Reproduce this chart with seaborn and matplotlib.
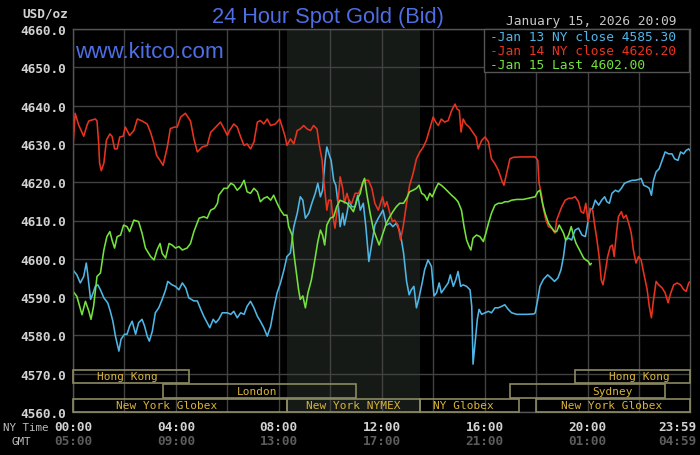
import pandas as pd
import seaborn as sns
import matplotlib
matplotlib.use("Agg")
import matplotlib.pyplot as plt
import matplotlib.transforms as mtransforms
from matplotlib.patches import Rectangle

# minutes after midnight (NY time) and bid price
jan13_min = [0, 9, 17, 25, 31, 34, 41, 47, 52, 58, 64, 72, 81, 87, 93, 99, 107, 112, 120, 126,
             132, 138, 146, 153, 161, 167, 173, 178, 185, 192, 200, 208, 216, 221, 231, 239, 247, 255, 263, 270,
             282, 290, 298, 305, 313, 319, 327, 333, 340, 348, 356,
             360, 368, 375, 383, 391, 399, 406, 414, 422, 430, 437, 445, 453, 461, 468, 476, 484, 492, 499, 507,
             515, 523, 530, 536, 542, 550, 557, 565, 571, 577, 582, 588, 592, 598, 602, 608, 613, 619, 623, 629,
             633, 639, 644, 650, 658, 664, 670, 677, 683, 690, 697, 704, 712,
             723, 731, 739, 746, 754, 761, 766, 771, 778, 784, 789, 795, 801, 807, 815, 820, 828, 836, 842, 848,
             854, 859, 867, 875, 880, 887, 893, 898, 904, 910, 918, 926, 930, 933, 937, 943, 947, 953, 961, 969,
             976, 984, 992, 1000, 1007, 1015, 1023, 1035, 1058, 1075,
             1078, 1084, 1089, 1097, 1107, 1115, 1123, 1131, 1138, 1144, 1149, 1156, 1163, 1171, 1179, 1187,
             1195, 1201, 1206, 1212, 1218, 1226, 1233, 1240, 1245, 1251, 1257, 1265, 1272, 1279, 1286, 1294,
             1304, 1311, 1319, 1325, 1331, 1339, 1344, 1349, 1354, 1360, 1367, 1374, 1381, 1389, 1397, 1403,
             1411, 1417, 1424, 1430, 1436, 1439]
jan13_usd = [4597.1, 4595.8, 4593.7, 4595.4, 4598.9, 4596.3, 4589.4, 4591.1, 4592.8, 4593.2,
             4591.9, 4589.8, 4588.5, 4586.3, 4583.7, 4579.8, 4575.9, 4579.0, 4580.3, 4580.3,
             4582.4, 4583.7, 4580.3, 4583.3, 4584.2, 4582.4, 4579.8, 4578.5, 4581.1, 4585.9,
             4587.2, 4589.4, 4591.9, 4594.1, 4593.2, 4592.8, 4591.9, 4593.7, 4592.4, 4589.8,
             4589.0, 4589.0, 4586.8, 4585.0, 4583.3, 4582.0, 4584.2, 4583.3, 4584.2, 4585.9, 4585.9,
             4585.9, 4585.5, 4586.3, 4584.6, 4585.9, 4585.5, 4587.6, 4588.9, 4587.2, 4585.0,
             4583.7, 4582.0, 4579.8, 4582.4, 4586.8, 4591.1, 4593.7, 4597.1, 4600.6, 4601.5,
             4608.4, 4611.9, 4616.2, 4615.3, 4610.6, 4611.9, 4614.5, 4617.1, 4619.7, 4616.2,
             4617.9, 4625.7, 4629.2, 4627.0, 4625.7, 4620.5, 4619.2, 4613.6, 4608.4, 4611.9,
             4608.8, 4611.9, 4615.3, 4613.6, 4613.6, 4616.6, 4612.7, 4614.5, 4608.4, 4599.3,
             4604.1, 4608.8, 4610.6,
             4612.7, 4608.8, 4609.3, 4608.4, 4609.3, 4607.5, 4604.9, 4601.5, 4594.1, 4590.6,
             4591.9, 4592.8, 4587.2, 4589.8, 4594.1, 4597.1, 4599.7, 4598.0, 4590.3, 4591.1,
             4593.7, 4591.1, 4592.4, 4593.7, 4595.8, 4592.8, 4594.6, 4596.7, 4592.8, 4593.2,
             4592.8, 4591.9, 4587.6, 4572.5, 4577.2, 4584.2, 4586.8, 4585.5, 4585.9, 4586.3,
             4585.9, 4587.2, 4587.2, 4587.6, 4588.0, 4586.8, 4585.9, 4585.5, 4585.5, 4585.6,
             4585.9, 4589.4, 4592.8, 4594.6, 4595.8, 4595.0, 4594.1, 4595.0, 4597.1, 4600.6,
             4604.9, 4605.4, 4604.9, 4607.5, 4608.0, 4606.2, 4605.8, 4609.7, 4612.7, 4613.2,
             4615.3, 4614.0, 4615.3, 4616.2, 4614.9, 4614.5, 4617.1, 4617.9, 4617.5, 4618.4,
             4619.7, 4620.1, 4620.5, 4620.5, 4620.7, 4621.0, 4619.2, 4618.8, 4618.4, 4616.6,
             4620.5, 4622.7, 4623.5, 4625.7, 4627.9, 4627.4, 4627.4, 4626.1, 4625.7, 4627.9,
             4627.4, 4628.3, 4628.7, 4628.2]

jan14_min = [0, 5, 13, 25, 33, 37, 52, 56, 60, 62, 66, 72, 78, 86, 91, 97, 103, 109, 117, 122,
             132, 142, 150, 161, 173, 181, 189, 195, 203, 210, 220, 227, 237, 243, 251, 262, 274, 282, 290, 301,
             313, 321, 333, 344, 352,
             360, 365, 375, 383, 391, 399, 406, 414, 422, 430, 437, 445, 453, 461, 472, 482, 488, 495, 499, 507,
             515, 523, 530, 538, 546, 554, 561, 569, 574, 581, 584, 588, 592, 596, 602, 605, 611, 618, 623, 629,
             633, 639, 644, 650, 658, 666, 673, 681, 689, 697, 704, 712,
             722, 727, 732, 739, 745, 750, 758, 764, 770, 778, 785, 793, 801, 809, 817, 824, 832, 840, 846, 852,
             859, 867, 875, 883, 891, 896, 901, 905, 910, 916, 924, 932, 940, 945, 953, 961, 969, 976, 984, 992,
             1000, 1005, 1011, 1019, 1027, 1043, 1058,
             1078, 1084, 1087, 1092, 1097, 1103, 1109, 1117, 1124, 1128, 1134, 1140, 1148, 1156, 1163, 1171,
             1179, 1185, 1191, 1196, 1201, 1206, 1212, 1216, 1222, 1227, 1232, 1236, 1241, 1247, 1253, 1258,
             1262, 1267, 1272, 1279, 1284, 1290, 1296, 1302, 1307, 1313, 1319, 1325, 1331, 1339, 1344, 1349,
             1354, 1360, 1366, 1374, 1381, 1388, 1393, 1401, 1409, 1417, 1424, 1430, 1436, 1439]
jan14_usd = [4629.2, 4638.0, 4635.0, 4632.0, 4635.0, 4636.0, 4636.5, 4636.0, 4630.0, 4625.0,
             4623.0, 4625.0, 4631.0, 4632.6, 4632.0, 4628.7, 4628.7, 4631.8, 4632.0, 4634.4,
             4632.2, 4633.5, 4636.5, 4636.0, 4635.2, 4633.0, 4630.0, 4627.0, 4625.7, 4624.4,
             4629.2, 4634.0, 4634.4, 4634.4, 4637.0, 4638.0, 4636.0, 4631.3, 4627.9, 4629.2,
             4629.6, 4633.0, 4634.4, 4635.7, 4634.0,
             4632.2, 4633.5, 4635.2, 4634.4, 4631.8, 4629.6, 4630.0, 4628.7, 4630.5, 4635.7,
             4636.1, 4635.2, 4636.5, 4634.8, 4635.2, 4636.5, 4634.4, 4631.8, 4629.6, 4631.3,
             4630.0, 4633.5, 4633.9, 4634.8, 4633.9, 4633.5, 4634.8, 4633.9, 4630.0, 4625.7,
             4621.4, 4617.1, 4612.7, 4615.3, 4615.3, 4611.9, 4608.0, 4614.5, 4621.4, 4618.4,
             4614.5, 4617.1, 4614.9, 4614.5, 4617.1, 4617.1, 4618.8, 4620.5, 4620.5, 4618.4,
             4614.5, 4612.7,
             4616.2, 4613.6, 4614.9, 4611.9, 4609.7, 4610.1, 4608.8, 4604.9, 4608.4, 4614.5,
             4619.2, 4622.2, 4626.1, 4627.9, 4629.2, 4630.9, 4633.9, 4637.0, 4635.7, 4634.8,
             4636.5, 4635.7, 4636.1, 4638.7, 4640.4, 4639.1, 4638.7, 4633.1, 4636.5, 4635.2,
             4634.4, 4633.1, 4631.8, 4628.7, 4630.9, 4631.8, 4630.5, 4626.1, 4624.8, 4623.1,
             4620.5, 4619.2, 4622.2, 4626.1, 4626.5, 4626.6, 4626.6,
             4626.6, 4625.7, 4619.7, 4617.1, 4613.2, 4610.1, 4608.4, 4608.0, 4606.7, 4610.1,
             4611.9, 4613.6, 4615.3, 4615.8, 4615.8, 4616.2, 4614.9, 4612.3, 4611.9, 4614.5,
             4609.7, 4613.2, 4612.7, 4609.3, 4604.9, 4600.6, 4594.5, 4593.2, 4596.3, 4600.6,
             4603.2, 4603.6, 4600.6, 4606.2, 4611.0, 4612.3, 4610.6, 4611.4, 4609.3, 4606.7,
             4602.3, 4598.9, 4600.6, 4599.7, 4596.3, 4592.0, 4587.6, 4584.6, 4589.4, 4594.1,
             4593.2, 4592.4, 4591.1, 4588.5, 4590.7, 4593.2, 4593.7, 4593.2, 4592.0, 4591.5,
             4593.7, 4594.0]

jan15_min = [0, 9, 21, 29, 37, 42, 48, 56, 64, 72, 79, 86, 91, 97, 103, 111, 118, 126, 132, 142,
             153, 161, 169, 181, 189, 196, 203, 208, 216, 224, 231, 239, 247, 255, 266, 274, 282, 294, 305, 313,
             321, 330, 337, 340, 352,
             360, 368, 375, 383, 391, 399, 406, 414, 422, 430, 437, 445, 453, 461, 468, 476, 484, 492, 499, 503,
             511, 515, 520, 526, 530, 536, 542, 548, 556, 564, 571, 577, 582, 587, 592, 600, 608, 615, 623, 631,
             639, 646, 654, 662, 670, 675, 680, 685, 693, 701, 708, 714,
             723, 731, 739, 746, 754, 762, 771, 778, 785, 793, 801, 807, 813, 820, 826, 832, 838, 846, 852, 859,
             867, 875, 883, 891, 898, 906, 912, 918, 924, 928, 933, 941, 949, 957, 963, 969, 976, 984, 992, 1000,
             1007, 1015, 1023, 1035, 1050,
             1078, 1084, 1089, 1095, 1101, 1109, 1117, 1123, 1128, 1134, 1138, 1144, 1149, 1156, 1162, 1167,
             1173, 1179, 1185, 1191, 1196, 1202, 1206, 1209]
jan15_usd = [4591.5, 4590.2, 4585.4, 4588.9, 4586.3, 4584.2, 4587.6, 4595.4, 4596.3, 4602.3,
             4605.8, 4607.1, 4604.9, 4602.8, 4605.8, 4606.2, 4608.8, 4608.4, 4607.1, 4610.1,
             4609.7, 4606.7, 4602.8, 4600.6, 4599.7, 4602.3, 4604.0, 4601.4, 4600.2, 4604.0,
             4603.6, 4602.8, 4603.2, 4602.3, 4602.8, 4604.0, 4607.1, 4610.6, 4611.0, 4610.6,
             4612.7, 4613.2, 4614.5, 4616.6, 4618.4,
             4618.4, 4619.7, 4619.3, 4617.9, 4618.8, 4620.5, 4617.5, 4617.1, 4618.4, 4617.5,
             4614.9, 4615.8, 4616.2, 4615.3, 4616.6, 4614.5, 4612.7, 4611.4, 4611.4, 4608.4,
             4606.2, 4601.5, 4597.1, 4592.0, 4589.4, 4590.3, 4587.2, 4591.1, 4594.5, 4599.7,
             4604.5, 4607.5, 4606.2, 4603.6, 4608.8, 4610.6, 4611.0, 4613.6, 4615.3, 4614.9,
             4614.5, 4613.6, 4612.3, 4615.3, 4617.1, 4619.7, 4621.0, 4617.1, 4611.9, 4607.5,
             4605.4, 4603.6,
             4606.7, 4609.3, 4611.0, 4612.3, 4613.6, 4614.5, 4614.5, 4615.8, 4617.5, 4617.9,
             4618.4, 4619.2, 4617.1, 4616.6, 4615.3, 4617.1, 4616.2, 4618.4, 4619.7, 4619.2,
             4618.4, 4617.5, 4616.6, 4615.8, 4614.9, 4612.7, 4608.4, 4604.9, 4603.2, 4602.3,
             4605.4, 4606.2, 4605.8, 4604.5, 4606.7, 4609.3, 4611.9, 4614.0, 4614.5, 4614.5,
             4614.9, 4614.9, 4615.3, 4615.5, 4615.5,
             4616.2, 4617.5, 4617.9, 4614.5, 4611.9, 4609.3, 4608.0, 4607.1, 4607.1, 4608.8,
             4608.0, 4606.7, 4604.9, 4606.2, 4608.4, 4606.2, 4604.1, 4602.8, 4601.5, 4600.2,
             4599.7, 4599.3, 4598.4, 4598.8]

series_names = ["Jan 13 NY close 4585.30", "Jan 14 NY close 4626.20", "Jan 15 Last 4602.00"]
series_colors = ["#4fb6e6", "#e8341f", "#74e23d"]

y_ticks = list(range(4560, 4661, 10))
tick_min = [0, 240, 480, 720, 960, 1200, 1439]
ny_labels = ["00:00", "04:00", "08:00", "12:00", "16:00", "20:00", "23:59"]
gmt_labels = ["05:00", "09:00", "13:00", "17:00", "21:00", "01:00", "04:59"]

# trading sessions: row (0 = top), open, close (minutes), name
sessions = [(0, 0, 270, "Hong Kong"), (0, 1170, 1439, "Hong Kong"),
            (1, 210, 660, "London"), (1, 1020, 1380, "Sydney"),
            (2, 0, 500, "New York Globex"), (2, 500, 810, "New York NYMEX"),
            (2, 810, 1040, "NY Globex"), (2, 1080, 1439, "New York Globex")]
session_label_at = [126, 1320, 430, 1258, 218, 653, 911, 1256]
nymex_open, nymex_close = 500, 810

frames = []
for name, t, v in zip(series_names, [jan13_min, jan14_min, jan15_min], [jan13_usd, jan14_usd, jan15_usd]):
    frames.append(pd.DataFrame({"minute": t, "price": v, "series": name}))
df = pd.concat(frames, ignore_index=True)

sns.set_theme(style="dark", rc={"axes.facecolor": "black", "figure.facecolor": "black"})
plt.rcParams["font.family"] = ["DejaVu Sans Mono", "DejaVu Sans"]

W, H = 700, 456
fig = plt.figure(figsize=(7, 4.56), dpi=100)
ax = fig.add_axes([73 / W, 43 / H, 617 / W, 383 / H])

ax.axvspan(nymex_open, nymex_close, color="#161a17", zorder=0, lw=0)
sns.lineplot(data=df, x="minute", y="price", hue="series", palette=dict(zip(series_names, series_colors)),
             estimator=None, sort=False, linewidth=1.15, legend=False, ax=ax)

ax.set_xlim(0, 1439)
ax.set_ylim(4560, 4660)
ax.set_xticks(list(range(0, 1440, 120)))
ax.set_xticklabels([])
ax.set_yticks(y_ticks)
ax.set_yticklabels([f"{v:.1f}" for v in y_ticks], fontsize=9.2, fontweight="bold", color="#d2d2d2")
ax.tick_params(length=0)
ax.tick_params(axis="y", pad=5)
ax.set_xlabel("")
ax.set_ylabel("")
ax.grid(True, color="#424242", linewidth=1.0)
for s in ax.spines.values():
    s.set_color("#555555")
    s.set_linewidth(1.0)

# session bars along the bottom
trans = mtransforms.blended_transform_factory(ax.transData, ax.transAxes)
row_bottom = [0.0757, 0.0366, 0.0]
row_height = [0.034, 0.0365, 0.034]
for (row, t0, t1, name), lx in zip(sessions, session_label_at):
    ax.add_patch(Rectangle((t0, row_bottom[row]), t1 - t0, row_height[row], transform=trans,
                           fill=False, edgecolor="#8c8a62", lw=1.2, clip_on=False, zorder=4))
    ax.text(lx, row_bottom[row] + row_height[row] / 2, name, transform=trans, ha="center", va="center",
            fontsize=8, color="#d8b43a", zorder=5)

# time labels
tx = mtransforms.blended_transform_factory(ax.transData, fig.transFigure)
for m, ny, gmt in zip(tick_min[:-1], ny_labels[:-1], gmt_labels[:-1]):
    ax.text(m, 1 - 428 / H, ny, transform=tx, ha="center", va="center", fontsize=9.2,
            fontweight="bold", color="#d2d2d2", clip_on=False)
    ax.text(m, 1 - 442 / H, gmt, transform=tx, ha="center", va="center", fontsize=9.2,
            fontweight="bold", color="#5c5c5c", clip_on=False)
fig.text(696 / W, 1 - 428 / H, ny_labels[-1], ha="right", va="center", fontsize=9.2,
         fontweight="bold", color="#d2d2d2")
fig.text(696 / W, 1 - 442 / H, gmt_labels[-1], ha="right", va="center", fontsize=9.2,
         fontweight="bold", color="#5c5c5c")
fig.text(26 / W, 1 - 428 / H, "NY Time", ha="center", va="center", fontsize=7.8, color="#bdbdbd")
fig.text(21 / W, 1 - 442 / H, "GMT", ha="center", va="center", fontsize=7.8, color="#bdbdbd")

# headers
fig.text(68 / W, 1 - 14 / H, "USD/oz", ha="right", va="center", fontsize=9.2, fontweight="bold",
         color="#d2d2d2")
fig.text(328 / W, 1 - 17 / H, "24 Hour Spot Gold (Bid)", ha="center", va="center", fontsize=15.7,
         color="#4e6ee4", family="Liberation Sans")
fig.text(75 / W, 1 - 53 / H, "www.kitco.com", ha="left", va="center", fontsize=16.2,
         color="#4e6ee4", family="Liberation Sans")
fig.text(677 / W, 1 - 22 / H, "January 15, 2026 20:09", ha="right", va="center", fontsize=9.3,
         color="#c8c8c8")

# legend box
fig.add_artist(Rectangle((484 / W, 1 - 73 / H), 205 / W, 43 / H, transform=fig.transFigure,
                         facecolor="black", edgecolor="#555555", lw=1.0, zorder=5))
for i, (name, col) in enumerate(zip(series_names, series_colors)):
    fig.text(490 / W, 1 - (37.5 + 13.8 * i) / H, "-" + name, ha="left", va="center", fontsize=9.3,
             color=col, zorder=6)

fig.savefig("out.png", dpi=100, facecolor="black")
